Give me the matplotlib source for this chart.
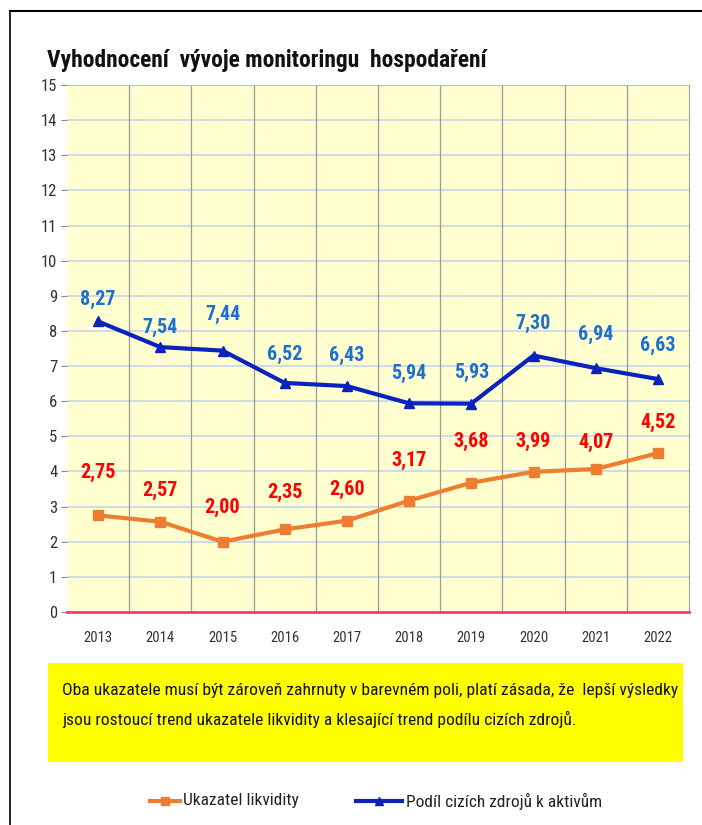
import matplotlib
matplotlib.use("Agg")
import matplotlib.pyplot as plt
import matplotlib.font_manager as fm
from matplotlib.font_manager import FontProperties
from matplotlib.patches import Rectangle
from matplotlib.lines import Line2D

years = ["2013", "2014", "2015", "2016", "2017", "2018", "2019", "2020", "2021", "2022"]
likvidita = [2.75, 2.57, 2.00, 2.35, 2.60, 3.17, 3.68, 3.99, 4.07, 4.52]
podil = [8.27, 7.54, 7.44, 6.52, 6.43, 5.94, 5.93, 7.30, 6.94, 6.63]
likvidita_lbl_off = [43, 31, 34, 37, 31, 40, 41, 30, 27, 31]
podil_lbl_off = [22, 20, 36, 29, 31, 30, 31, 32, 34, 34]
title = "Vyhodnocení  vývoje monitoringu  hospodaření"
note_lines = ["Oba ukazatele musí být zároveň zahrnuty v barevném poli, platí zásada, že  lepší výsledky",
              "jsou rostoucí trend ukazatele likvidity a klesající trend podílu cizích zdrojů."]
leg_names = ["Ukazatel likvidity", "Podíl cizích zdrojů k aktivům"]

# ---- pick a narrow font if one is installed ----
def find_font(bold):
    prefs = ["Liberation Sans Narrow", "DejaVu Sans Condensed", "Roboto Condensed",
             "Open Sans Condensed", "Noto Sans Condensed", "Noto Sans", "Open Sans", "Roboto",
             "Arimo", "Lato", "Inter"]
    best = None
    for f in fm.fontManager.ttflist:
        nm = f.name
        if any(k in nm for k in ("Mono", "Serif", "CJK", "Display", "Math")):
            continue
        if f.style != "normal":
            continue
        w = f.weight if isinstance(f.weight, int) else fm.weight_dict.get(f.weight, 400)
        cond = (f.stretch in ("condensed", "semi-condensed", "extra-condensed", "ultra-condensed")
                or "Narrow" in nm or "Condensed" in nm or "Cond" in f.fname)
        if not cond:
            continue
        fam_rank = next((i for i, p in enumerate(prefs) if nm.startswith(p)), len(prefs))
        score = (fam_rank, abs(w - (700 if bold else 400)),
                 0 if f.stretch == "condensed" else 1)
        if best is None or score < best[0]:
            best = (score, f.fname)
    return best[1] if best else None

reg_file = find_font(False)
bold_file = find_font(True)

def fp(bold=False, size=10):
    f = bold_file if bold else reg_file
    if f:
        return FontProperties(fname=f, size=size)
    return FontProperties(family="DejaVu Sans", weight="bold" if bold else "normal", size=size)

W, H = 702, 825
fig = plt.figure(figsize=(W / 100, H / 100), dpi=100)
renderer = fig.canvas.get_renderer()

def text_width(s, prop):
    t = fig.text(0, 0, s, fontproperties=prop)
    w = t.get_window_extent(renderer).width
    t.remove()
    return w

def fit(s, bold, target_px, max_size):
    base = 20
    w = text_width(s, fp(bold, base))
    return min(max_size, base * target_px / w)

def fx(px):
    return px / W

def fy(py):
    return 1 - py / H

# outer frame (left and top lines)
fig.add_artist(Line2D([fx(9.5), fx(9.5)], [fy(11), fy(825)], color="black", lw=1.2))
fig.add_artist(Line2D([fx(9.5), fx(702)], [fy(11), fy(11)], color="black", lw=1.5))

L, R, T, B = 67, 689, 85, 612
ax = fig.add_axes([fx(L), fy(B), fx(R - L), (B - T) / H])
ax.set_facecolor("#FFFFD0")
x = list(range(len(years)))
ax.set_xlim(-0.5, len(years) - 0.5)
ax.set_ylim(0, 15)
ax.set_yticks(range(0, 16))
ax.set_xticks(x)
ax.set_xticklabels(years)
for yv in range(1, 16):
    ax.axhline(yv, color="#C8D4EE", lw=1.2, zorder=1)
for xv in range(1, len(years)):
    ax.axvline(xv - 0.5, color="#9A9A9A", lw=0.9, zorder=1)
ax.spines["left"].set_visible(False)
ax.spines["top"].set_color("#B0BCD8")
ax.spines["right"].set_color("#A0A0A0")
ax.spines["bottom"].set_color("#FF3377")
ax.spines["bottom"].set_linewidth(2)

ax.tick_params(axis="y", length=4, color="#888888", labelcolor="#333333", pad=3)
ax.tick_params(axis="x", length=0, labelcolor="#333333", pad=14)
for lab in ax.get_yticklabels():
    lab.set_fontproperties(fp(False, 12))
for lab in ax.get_xticklabels():
    lab.set_fontproperties(fp(False, 10.5))

ax.plot(x, likvidita, color="#ED7D31", lw=3, marker="s", ms=7.5, zorder=3)
ax.plot(x, podil, color="#0A22BE", lw=3, marker="^", ms=7.5, zorder=3)

lbl_size = 14.5
for xi, v, off in zip(x, likvidita, likvidita_lbl_off):
    ax.annotate(f"{v:.2f}".replace(".", ","), (xi, v), xytext=(0, off), textcoords="offset pixels",
                ha="center", va="center", color="#FF0000", fontproperties=fp(True, lbl_size))
for xi, v, off in zip(x, podil, podil_lbl_off):
    ax.annotate(f"{v:.2f}".replace(".", ","), (xi, v), xytext=(0, off), textcoords="offset pixels",
                ha="center", va="center", color="#1F6FD0", fontproperties=fp(True, lbl_size))

title_size = fit(title, True, 440, 22)
fig.text(fx(47), fy(60), title, fontproperties=fp(True, title_size), ha="left", va="center",
         color="#111111")

# yellow note box
fig.add_artist(Rectangle((fx(48), fy(762)), fx(683 - 48), (762 - 663) / H,
                         facecolor="#FFFF00", edgecolor="none", transform=fig.transFigure))
note_size = fit(note_lines[0], False, 612, 15)
fig.text(fx(62), fy(690), note_lines[0], fontproperties=fp(False, note_size), ha="left",
         va="center", color="#111111")
fig.text(fx(62), fy(719), note_lines[1], fontproperties=fp(False, note_size), ha="left",
         va="center", color="#111111")

# legend
leg_size = fit(leg_names[0], False, 115, 14)
fig.add_artist(Line2D([fx(150), fx(180)], [fy(801), fy(801)], color="#ED7D31", lw=3))
fig.add_artist(Line2D([fx(165)], [fy(801)], color="#ED7D31", marker="s", ms=6, ls="none"))
fig.text(fx(183), fy(801), leg_names[0], fontproperties=fp(False, leg_size), ha="left",
         va="center", color="#222222")
fig.add_artist(Line2D([fx(356), fx(402)], [fy(801), fy(801)], color="#0A22BE", lw=3))
fig.add_artist(Line2D([fx(379)], [fy(801)], color="#0A22BE", marker="^", ms=6, ls="none"))
fig.text(fx(406), fy(801), leg_names[1], fontproperties=fp(False, leg_size), ha="left",
         va="center", color="#222222")

fig.savefig("out.png", dpi=100)
